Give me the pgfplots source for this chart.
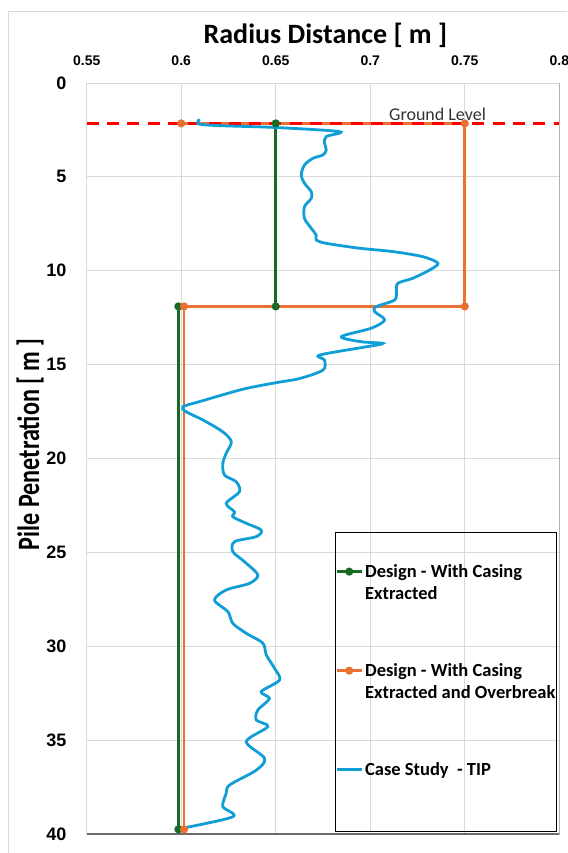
\documentclass[border=0pt]{standalone}
\usepackage{fontspec}
\setmainfont{Carlito}
\newfontfamily\tickfont{Liberation Sans}
\newfontfamily\narrowfont[FakeStretch=0.78]{Carlito}
\usepackage{pgfplots}
\pgfplotsset{compat=1.18}
\definecolor{cgreen}{HTML}{196B24}
\definecolor{corange}{HTML}{E97132}
\definecolor{cblue}{HTML}{0F9ED5}
\definecolor{cgrid}{HTML}{D9D9D9}
\definecolor{caxis}{HTML}{6B6B6B}
\newcommand{\twoline}[2]{\vtop{\hbox{#1}\hbox{#2}}}
\begin{document}
\begin{tikzpicture}
\useasboundingbox (0,0) rectangle (567pt,853pt);
\draw[cgrid, line width=0.8pt] (8pt,0) -- (8pt,842pt) -- (567pt,842pt);
\begin{axis}[
  at={(86.7pt,19pt)}, anchor=south west,
  width=472.6pt, height=751pt, scale only axis,
  xmin=0.55, xmax=0.8, ymin=0, ymax=40, y dir=reverse,
  xtick={0.55,0.6,0.65,0.7,0.75,0.8},
  xticklabels={0.55,0.6,0.65,0.7,0.75,0.8},
  ytick={0,5,...,40},
  xticklabel pos=upper,
  grid=major, major grid style={cgrid, line width=0.9pt},
  axis line style={cgrid, line width=0.9pt},
  tick style={draw=none},
  /pgf/number format/assume math mode=true,
  xticklabel style={font=\tickfont\bfseries\fontsize{14}{16}\selectfont, inner sep=0pt},
  yticklabel style={font=\tickfont\bfseries\fontsize{18}{20}\selectfont, inner sep=0pt},
  xticklabel shift=17pt, yticklabel shift=20pt,
  xlabel={Radius Distance [ m ]},
  ylabel={Pile Penetration [ m ]},
  xlabel style={font=\bfseries\fontsize{28}{32}\selectfont, at={(axis description cs:0.505,1)}, anchor=center, yshift=48pt},
  ylabel style={font=\narrowfont\bfseries\fontsize{31}{34}\selectfont, at={(axis description cs:-0.12,0.519)}, anchor=center},
  legend style={at={(axis description cs:0.9966,0.3620)}, anchor=north east, draw=none, fill=none, inner sep=0pt,
    font=\bfseries\fontsize{18.5}{21.7}\selectfont, cells={anchor=base west},
    row sep={99pt,between origins}},
  legend image code/.code={\draw[#1, mark repeat=2, mark phase=2] plot coordinates {(0pt,5.7pt)(12.5pt,5.7pt)(25pt,5.7pt)};},
]
\addplot[cgreen, line width=2.6pt, mark=*, mark size=2.7pt] coordinates {
  (0.65,2.15) (0.65,11.9) (0.5985,11.9) (0.5985,39.75)};
\addlegendentry{\twoline{Design - With Casing}{Extracted}}
\addplot[corange, line width=2.6pt, mark=*, mark size=2.7pt] coordinates {
  (0.6,2.15) (0.75,2.15) (0.75,11.9) (0.6015,11.9) (0.6015,39.75)};
\addlegendentry{\twoline{Design - With Casing}{Extracted and Overbreak}}
\addplot[red, line width=2.6pt, dash pattern=on 12pt off 8.3pt, forget plot] coordinates {(0.55,2.15) (0.8,2.15)};
\addplot[cblue, line width=2.8pt, smooth, tension=0.5] coordinates {
(0.6097,1.93) (0.6092,2.18) (0.6200,2.27) (0.6500,2.37) (0.6837,2.59)
(0.6767,2.85) (0.6758,3.20) (0.6767,3.57) (0.6750,3.83) (0.6697,4.01)
(0.6652,4.37) (0.6635,4.90) (0.6652,5.34) (0.6688,5.79) (0.6688,6.14)
(0.6652,6.59) (0.6652,7.21) (0.6688,7.74) (0.6714,8.10) (0.6714,8.36)
(0.6767,8.54) (0.6943,8.80) (0.7120,8.98) (0.7278,9.25) (0.7358,9.60)
(0.7314,9.96) (0.7225,10.40) (0.7146,10.67) (0.7138,11.12) (0.7129,11.56)
(0.7032,11.91) (0.7023,12.18) (0.7076,12.62) (0.7005,13.06) (0.6847,13.51)
(0.6952,13.78) (0.7067,13.87) (0.6979,14.05) (0.6732,14.49) (0.6758,14.76)
(0.6750,15.29) (0.6626,15.74) (0.6503,15.96) (0.6326,16.31) (0.6097,16.97)
(0.6009,17.24) (0.6026,17.51) (0.6115,17.95) (0.6220,18.58) (0.6265,19.11)
(0.6238,19.72) (0.6220,20.27) (0.6229,20.88) (0.6291,21.24) (0.6308,21.77)
(0.6238,22.39) (0.6282,22.84) (0.6273,23.10) (0.6344,23.45) (0.6423,23.81)
(0.6397,24.16) (0.6282,24.43) (0.6273,24.96) (0.6335,25.50) (0.6405,26.20)
(0.6361,26.65) (0.6238,27.00) (0.6176,27.54) (0.6247,28.16) (0.6273,28.78)
(0.6344,29.31) (0.6432,29.84) (0.6450,30.46) (0.6494,31.18) (0.6520,31.80)
(0.6423,32.42) (0.6467,32.78) (0.6405,33.40) (0.6397,33.93) (0.6458,34.28)
(0.6344,35.08) (0.6441,35.97) (0.6397,36.60) (0.6256,37.39) (0.6238,37.83)
(0.6220,38.54) (0.6273,39.08) (0.6000,39.70)};
\addlegendentry{Case Study\ \ - TIP}
\draw[caxis, line width=1.5pt] (axis description cs:1,1) -- (axis description cs:1,0) -- (axis description cs:0,0);
\draw[black, line width=1pt] (axis description cs:0.5275,0.4017) rectangle (axis description cs:0.9951,0.0031);
\node[font=\fontsize{18}{20}\selectfont, text=black!80] at (axis cs:0.7356,1.65) {Ground Level};
\end{axis}
\end{tikzpicture}
\end{document}
